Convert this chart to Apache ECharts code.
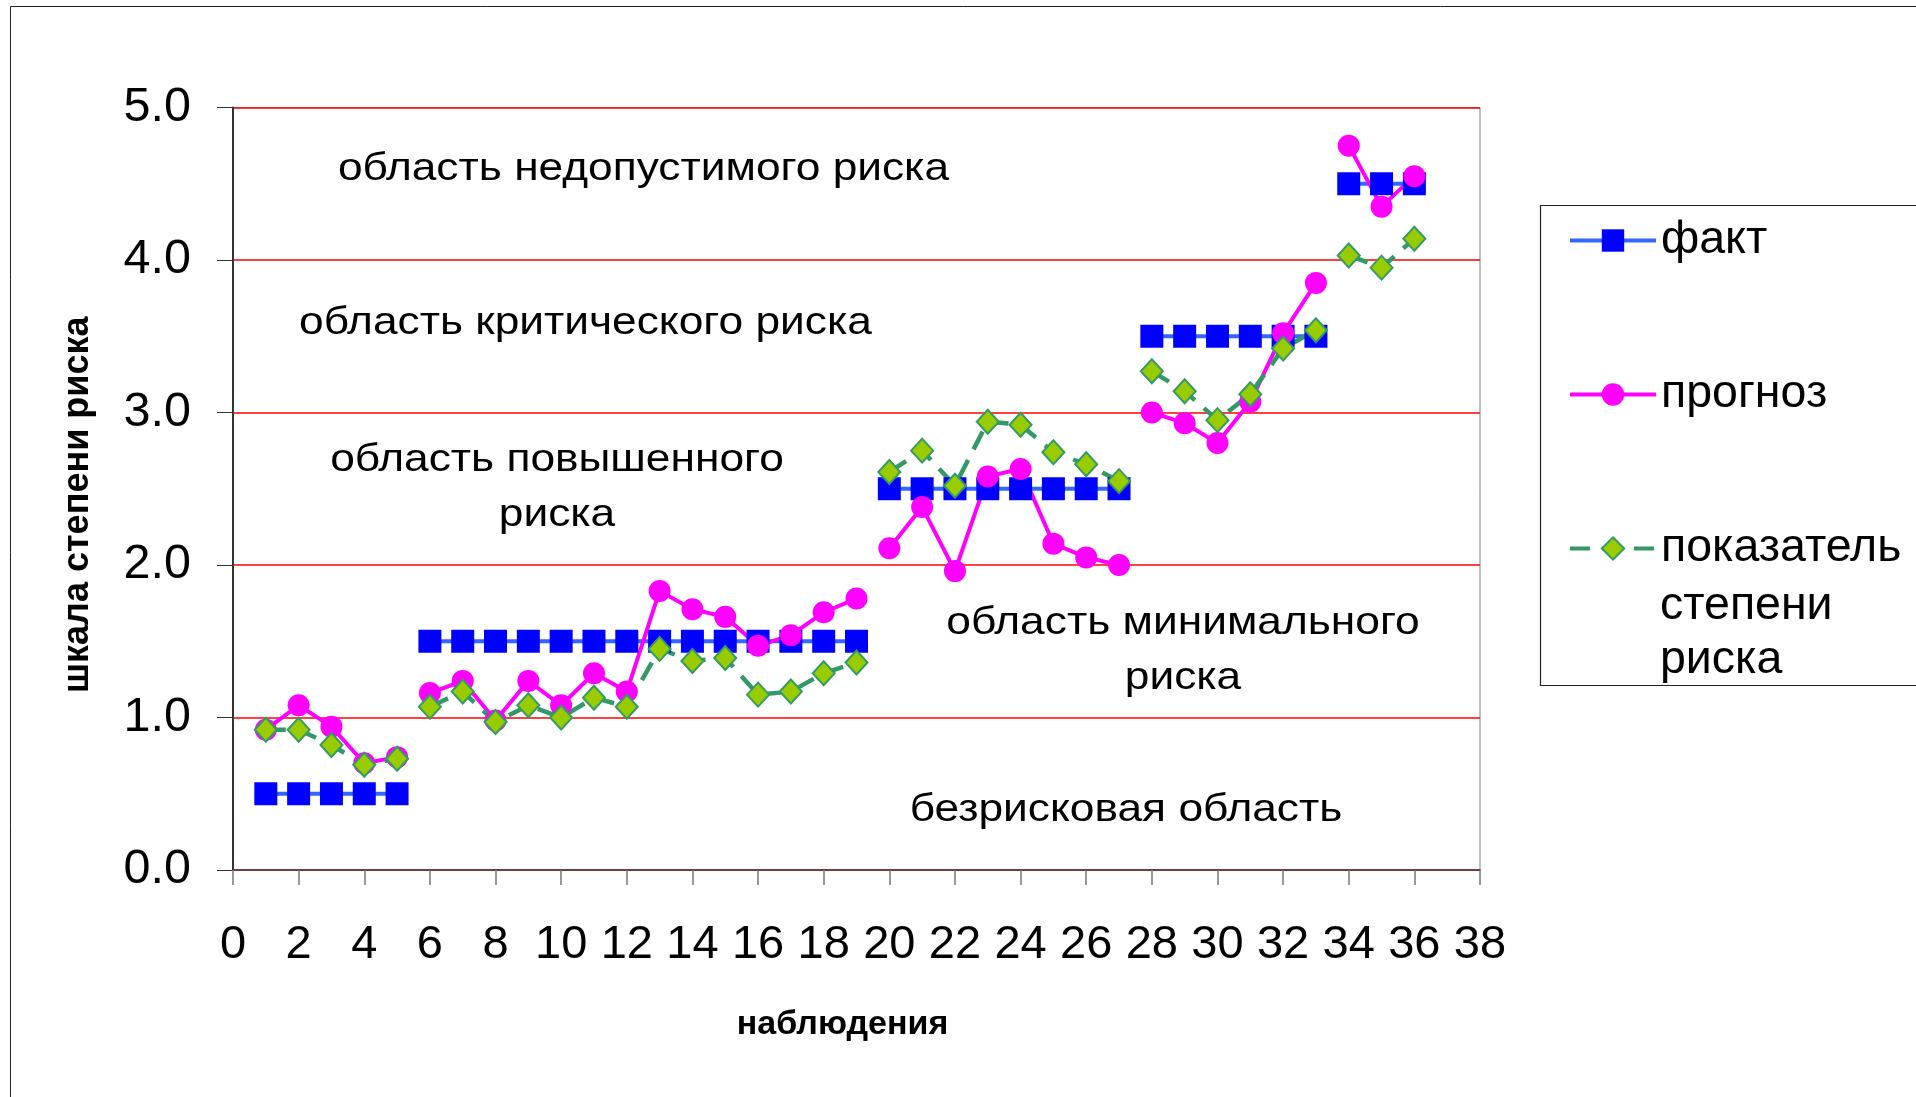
<!DOCTYPE html>
<html>
<head>
<meta charset="utf-8">
<script src="https://cdn.jsdelivr.net/npm/echarts@6/dist/echarts.min.js"></script>
<style>
html,body{margin:0;padding:0;background:#fff;}
#chart{width:1916px;height:1097px;}
</style>
</head>
<body>
<div id="chart"></div>
<script>
// ---- data ----
const observations = [1,2,3,4,5,6,7,8,9,10,11,12,13,14,15,16,17,18,19,20,21,22,23,24,25,26,27,28,29,30,31,32,33,34,35,36];
const groups       = [1,1,1,1,1,2,2,2,2,2,2,2,2,2,2,2,2,2,2,3,3,3,3,3,3,3,3,4,4,4,4,4,4,5,5,5];
const fact     = [0.5,0.5,0.5,0.5,0.5, 1.5,1.5,1.5,1.5,1.5,1.5,1.5,1.5,1.5,1.5,1.5,1.5,1.5,1.5, 2.5,2.5,2.5,2.5,2.5,2.5,2.5,2.5, 3.5,3.5,3.5,3.5,3.5,3.5, 4.5,4.5,4.5];
const forecast = [0.92,1.08,0.94,0.70,0.74, 1.16,1.24,0.98,1.24,1.08,1.29,1.17,1.83,1.71,1.66,1.47,1.54,1.69,1.78, 2.11,2.38,1.96,2.58,2.63,2.14,2.05,2.00, 3.00,2.93,2.80,3.07,3.52,3.85, 4.75,4.35,4.55];
const riskIndex = [0.92,0.92,0.82,0.69,0.73, 1.07,1.17,0.97,1.08,1.00,1.13,1.07,1.45,1.37,1.39,1.15,1.17,1.29,1.36, 2.61,2.75,2.52,2.94,2.92,2.74,2.66,2.55, 3.27,3.14,2.95,3.12,3.42,3.54, 4.03,3.95,4.14];
const seriesNames = ['факт', 'прогноз', 'показатель степени риска'];
const xTicks = [0,2,4,6,8,10,12,14,16,18,20,22,24,26,28,30,32,34,36,38];
const yTicks = [0,1,2,3,4,5];
const zoneLabels = ['область недопустимого риска', 'область критического риска', 'область повышенного\nриска', 'область минимального\nриска', 'безрисковая область'];

// build [x,y] pairs, breaking the line between observation groups
function buildData(values) {
  const out = [];
  for (let i = 0; i < observations.length; i++) {
    if (i > 0 && groups[i] !== groups[i - 1]) out.push([observations[i] - 0.5, '-']);
    out.push([observations[i], values[i]]);
  }
  return out;
}

const FONT = "'Liberation Sans', Arial, sans-serif";
const chart = echarts.init(document.getElementById('chart'), null, {renderer: 'canvas'});

function zoneText(text, x, y) {
  return {
    type: 'text', x: x, y: y, scaleX: 1.15, z: 10,
    style: { text: text, font: '38.5px ' + FONT, fill: '#000', align: 'center', verticalAlign: 'middle', lineHeight: 55 }
  };
}

chart.setOption({
  animation: false,
  backgroundColor: '#fff',
  grid: { left: 233, top: 107.5, right: 436, bottom: 227, show: true, borderColor: '#808080', borderWidth: 1, backgroundColor: 'transparent' },
  xAxis: {
    type: 'value', min: xTicks[0], max: xTicks[xTicks.length - 1], interval: xTicks[1] - xTicks[0],
    name: 'наблюдения', nameLocation: 'middle', nameGap: 138,
    nameTextStyle: { fontFamily: FONT, fontSize: 34, fontWeight: 'bold', color: '#000', padding: [0, 28, 0, 0] },
    axisLine: { show: true, onZero: false, lineStyle: { color: '#444', width: 1.5 } },
    axisTick: { show: true, inside: false, length: 15, lineStyle: { color: '#777', width: 1.5 } },
    axisLabel: { fontFamily: FONT, fontSize: 47, color: '#000', margin: 52 },
    splitLine: { show: false }
  },
  yAxis: {
    type: 'value', min: yTicks[0], max: yTicks[yTicks.length - 1], interval: yTicks[1] - yTicks[0],
    name: 'шкала степени риска', nameLocation: 'middle', nameGap: 137, nameRotate: 90,
    nameTextStyle: { fontFamily: FONT, fontSize: 36, fontWeight: 'bold', color: '#000', padding: [0, 32, 0, 0] },
    axisLine: { show: true, lineStyle: { color: '#333', width: 2 } },
    axisTick: { show: true, inside: false, length: 16, lineStyle: { color: '#333', width: 1 } },
    axisLabel: { fontFamily: FONT, fontSize: 48.5, color: '#000', margin: 42, formatter: v => v.toFixed(1) },
    splitLine: { show: true, lineStyle: { color: '#ff0000', width: 1.5 } }
  },
  legend: {
    orient: 'vertical', left: 1568, top: 215.5, padding: 0,
    itemWidth: 86, itemHeight: 28, itemGap: 104,
    data: seriesNames,
    formatter: name => name === seriesNames[2] ? 'показатель' : name,
    lineStyle: { width: 4 },
    textStyle: { fontFamily: FONT, fontSize: 46.5, color: '#000', lineHeight: 50 }
  },
  graphic: [
    { type: 'rect', shape: { x: 10.5, y: 6.5, width: 2000, height: 2000 }, style: { fill: 'none', stroke: '#222', lineWidth: 1 }, z: -1 },
    { type: 'rect', shape: { x: 1540.5, y: 205.5, width: 500, height: 480 }, style: { fill: 'none', stroke: '#222', lineWidth: 1.2 }, z: -1 },
    { type: 'text', x: 1660, y: 579, style: { text: 'степени\nриска', font: '46.5px ' + FONT, fill: '#000', align: 'left', verticalAlign: 'top', lineHeight: 54 } },
    zoneText(zoneLabels[0], 643.5, 169),
    zoneText(zoneLabels[1], 585.5, 323),
    zoneText(zoneLabels[2], 557, 487.5),
    zoneText(zoneLabels[3], 1183, 650.5),
    zoneText(zoneLabels[4], 1126, 810)
  ],
  series: [
    {
      name: seriesNames[0], type: 'line', data: buildData(fact), connectNulls: false,
      symbol: 'rect', symbolSize: 23,
      lineStyle: { color: '#3366ff', width: 4 },
      itemStyle: { color: '#0000ff', borderWidth: 0 }
    },
    {
      name: seriesNames[1], type: 'line', data: buildData(forecast), connectNulls: false,
      symbol: 'circle', symbolSize: 22,
      lineStyle: { color: '#ff00ff', width: 4 },
      itemStyle: { color: '#ff00ff', borderWidth: 0 }
    },
    {
      name: seriesNames[2], type: 'line', data: buildData(riskIndex), connectNulls: false,
      symbol: 'diamond', symbolSize: [22, 24],
      lineStyle: { color: '#339966', width: 4.5, type: [20, 12] },
      itemStyle: { color: '#99cc00', borderColor: '#339966', borderWidth: 2 }
    }
  ]
});
</script>
</body>
</html>
